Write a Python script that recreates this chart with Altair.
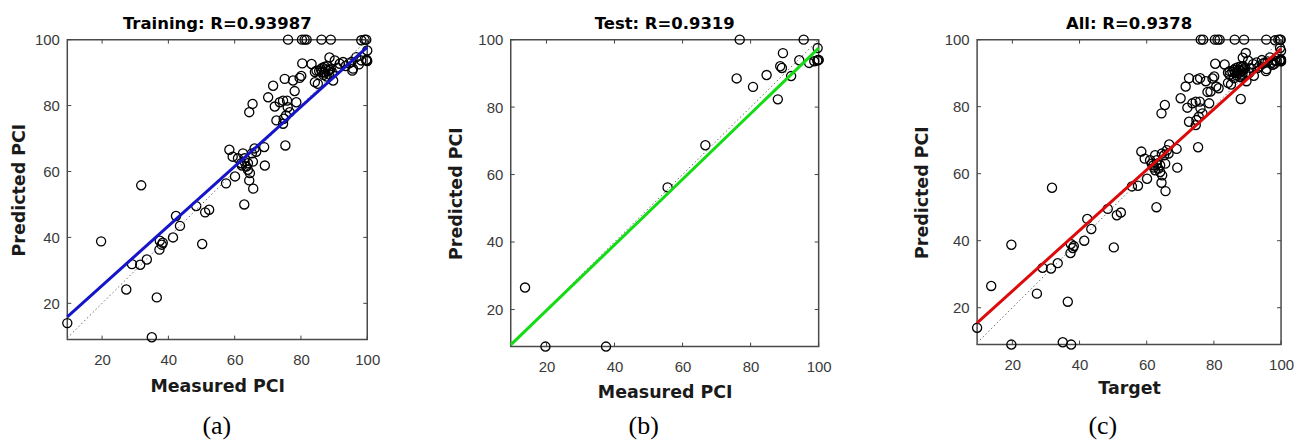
import altair as alt
import pandas as pd

# ---------------- data ----------------
train_x = [9.5, 19.7, 27.3, 29.0, 31.5, 33.5, 31.8, 36.5, 35.0, 37.4, 38.0, 37.3, 38.3,
           41.4, 42.3, 43.5, 48.4, 50.2, 51.1, 52.3, 57.4, 60.1, 58.4, 59.4, 62.9,
           61.0, 62.0, 62.5, 63.0, 63.5, 62.2, 64.0, 64.4, 65.6, 64.6, 65.2, 66.0, 65.5,
           64.0, 66.5, 68.9, 69.1, 63.0, 64.4, 65.4, 70.1, 71.6, 72.1, 72.6, 73.6, 74.6,
           74.8, 74.6, 75.1, 75.3, 75.8, 76.6, 77.6, 78.1, 78.6, 79.6, 80.1, 75.5, 76.0,
           80.4, 83.2, 84.2, 85.1, 84.7, 86.3, 84.2, 85.5, 86.5, 87.0, 87.5, 88.0, 88.2,
           88.5, 87.8, 89.0, 86.8, 88.7, 89.5, 87.2, 86.0, 88.6, 89.7, 90.2, 91.7, 92.7,
           95.5, 95.2, 95.7, 96.7, 98.2, 99.7, 100.0, 99.8, 100.0, 91.0, 93.5, 94.5, 97.5,
           76.1, 80.3, 81.1, 81.7, 86.2, 89.0, 98.2, 99.2, 99.7]
train_y = [14.0, 38.8, 24.2, 31.9, 31.7, 33.3, 55.8, 21.8, 9.7, 39.0, 37.8, 36.3, 38.4,
           40.0, 46.5, 43.5, 49.5, 38.0, 47.6, 48.4, 56.4, 58.5, 66.6, 64.5, 50.0,
           64.0, 62.5, 65.5, 63.0, 61.5, 61.8, 60.5, 57.3, 54.8, 59.5, 65.5, 67.0, 63.0,
           62.5, 66.0, 67.4, 61.8, 64.0, 78.0, 80.5, 82.5, 86.0, 79.7, 75.5, 81.0, 81.5,
           76.0, 74.5, 88.1, 67.9, 81.5, 78.0, 87.6, 84.4, 81.0, 88.4, 89.0, 77.0, 79.5,
           92.8, 92.6, 87.1, 86.6, 90.6, 90.1, 90.2, 90.5, 91.5, 90.0, 91.0, 92.0, 90.5,
           89.5, 88.8, 91.2, 89.3, 90.8, 90.0, 91.8, 91.0, 94.6, 87.6, 93.7, 92.7, 93.2,
           90.6, 93.2, 91.2, 94.7, 93.7, 93.7, 93.5, 93.9, 96.7, 91.5, 92.0, 92.8, 92.5,
           100.0, 100.0, 100.0, 100.0, 100.0, 100.0, 99.8, 100.0, 100.0]

test_x = [13.7, 19.7, 37.5, 55.6, 66.7, 75.9, 76.8, 80.7, 84.7, 88.0, 89.5, 88.7, 89.2,
          91.9, 94.3, 95.6, 97.2, 98.7, 99.7, 99.9, 100.0, 99.6]
test_y = [26.5, 9.0, 9.0, 56.2, 68.7, 88.5, 100.0, 86.0, 89.5, 82.3, 96.0, 92.1, 91.6,
          89.2, 93.9, 100.0, 93.1, 93.6, 97.5, 94.0, 94.0, 93.8]

val_x = [72.6, 81.4, 61.5, 87.0, 90.5, 93.0, 64.5, 98.0, 99.9, 86.0, 96.0, 62.5, 79.0, 88.3]
val_y = [88.5, 85.5, 63.0, 90.5, 90.0, 91.5, 66.0, 92.8, 100.0, 88.5, 93.5, 61.0, 84.5, 89.0]

# fitted regression lines (end points)
fit_train_x = [9.5, 100.0]
fit_train_y = [15.9, 97.7]
fit_test_x = [9.5, 100.0]
fit_test_y = [9.5, 97.5]
fit_all_x = [9.5, 100.0]
fit_all_y = [15.5, 97.3]

diag_vals = [9.5, 100.0]
tick_vals = [20, 40, 60, 80, 100]

titles = ["Training: R=0.93987", "Test: R=0.9319", "All: R=0.9378"]
x_titles = ["Measured PCI", "Measured PCI", "Target"]
y_title = "Predicted PCI"
captions = ["(a)", "(b)", "(c)"]

X_DOMAIN = [9.5, 100]
Y_DOMAIN = [9, 100]

SANS = "Liberation Sans"
BOLD = "DejaVu Sans"


def panel(px, py, fx, fy, color, title, xtitle, caption, W, H,
          ytx, xty, cap_x, cap_y):
    xs = alt.Scale(domain=X_DOMAIN, nice=False, zero=False)
    ys = alt.Scale(domain=Y_DOMAIN, nice=False, zero=False)
    pts = pd.DataFrame({"x": px, "y": py})
    fit = pd.DataFrame({"x": fx, "y": fy})
    diag = pd.DataFrame({"x": diag_vals, "y": diag_vals})
    tk = pd.DataFrame({"x": tick_vals, "y": tick_vals})
    cap = pd.DataFrame({"t": [caption]})

    xaxis = alt.Axis(values=tick_vals, grid=False, domain=False, ticks=False, tickSize=0,
                     labelFont=SANS, labelFontSize=15, labelColor="#3a3a3a",
                     labelPadding=13, labelFlush=False, labelOverlap=False,
                     title=xtitle, titleFont=BOLD, titleFontSize=17.5,
                     titleFontWeight="bold", titleColor="#1a1a1a",
                     titleY=xty, titleBaseline="middle")
    yaxis = alt.Axis(values=tick_vals, grid=False, domain=False, ticks=False, tickSize=0,
                     labelFont=SANS, labelFontSize=15, labelColor="#3a3a3a",
                     labelPadding=8, labelFlush=False, labelOverlap=False,
                     title=y_title, titleFont=BOLD, titleFontSize=17.5,
                     titleFontWeight="bold", titleColor="#1a1a1a",
                     titleX=ytx, titleY=H / 2, titleAngle=270,
                     titleBaseline="middle", titleAlign="center")

    X = alt.X("x:Q", scale=xs, axis=xaxis)
    Y = alt.Y("y:Q", scale=ys, axis=yaxis)

    points = alt.Chart(pts).mark_point(
        shape="circle", size=84, filled=False, color="black", strokeWidth=1.3, opacity=1
    ).encode(x=X, y=Y)

    fitl = alt.Chart(fit).mark_line(color=color, strokeWidth=3).encode(x=X, y=Y)

    diagl = alt.Chart(diag).mark_line(color="#6a6a6a", strokeWidth=1,
                                      strokeDash=[1.5, 2.5]).encode(x=X, y=Y)

    tcol = "#444444"
    tb = alt.Chart(tk).mark_rule(color=tcol, strokeWidth=1).encode(
        x=X, y=alt.value(H), y2=alt.value(H - 4))
    tt = alt.Chart(tk).mark_rule(color=tcol, strokeWidth=1).encode(
        x=X, y=alt.value(0), y2=alt.value(4))
    tl = alt.Chart(tk).mark_rule(color=tcol, strokeWidth=1).encode(
        y=Y, x=alt.value(0), x2=alt.value(4))
    tr = alt.Chart(tk).mark_rule(color=tcol, strokeWidth=1).encode(
        y=Y, x=alt.value(W - 4), x2=alt.value(W))

    captxt = alt.Chart(cap).mark_text(font="Liberation Serif", fontSize=26,
                                      color="black", baseline="middle",
                                      align="center").encode(
        x=alt.value(cap_x), y=alt.value(cap_y), text="t:N")

    return alt.layer(points, diagl, fitl, tb, tt, tl, tr, captxt).properties(
        width=W, height=H,
        title=alt.TitleParams(title, font=BOLD, fontSize=16.5, fontWeight="bold",
                              color="black", anchor="middle", offset=0),
    )


pa = panel(train_x, train_y, fit_train_x, fit_train_y, "#1414c8", titles[0], x_titles[0],
           captions[0], 301, 301, -48.4, 46.7, 150, 388)
pb = panel(test_x, test_y, fit_test_x, fit_test_y, "#14dc14", titles[1], x_titles[1],
           captions[1], 309, 308, -54.1, 46.0, 133.4, 388)
all_x = train_x + test_x + val_x
all_y = train_y + test_y + val_y
pc = panel(all_x, all_y, fit_all_x, fit_all_y, "#dc0a0a", titles[2], x_titles[2],
           captions[2], 305, 306, -54.3, 44.5, 126.2, 388)

chart = alt.hconcat(alt.hconcat(pa, pb, spacing=66), pc, spacing=80).properties(
    padding={"left": 0.5, "top": 6, "right": 0, "bottom": 0}
).configure_view(stroke="#4a4a4a", strokeWidth=1.5)

chart.save("out.html", embed_options={"renderer": "svg", "actions": False})
